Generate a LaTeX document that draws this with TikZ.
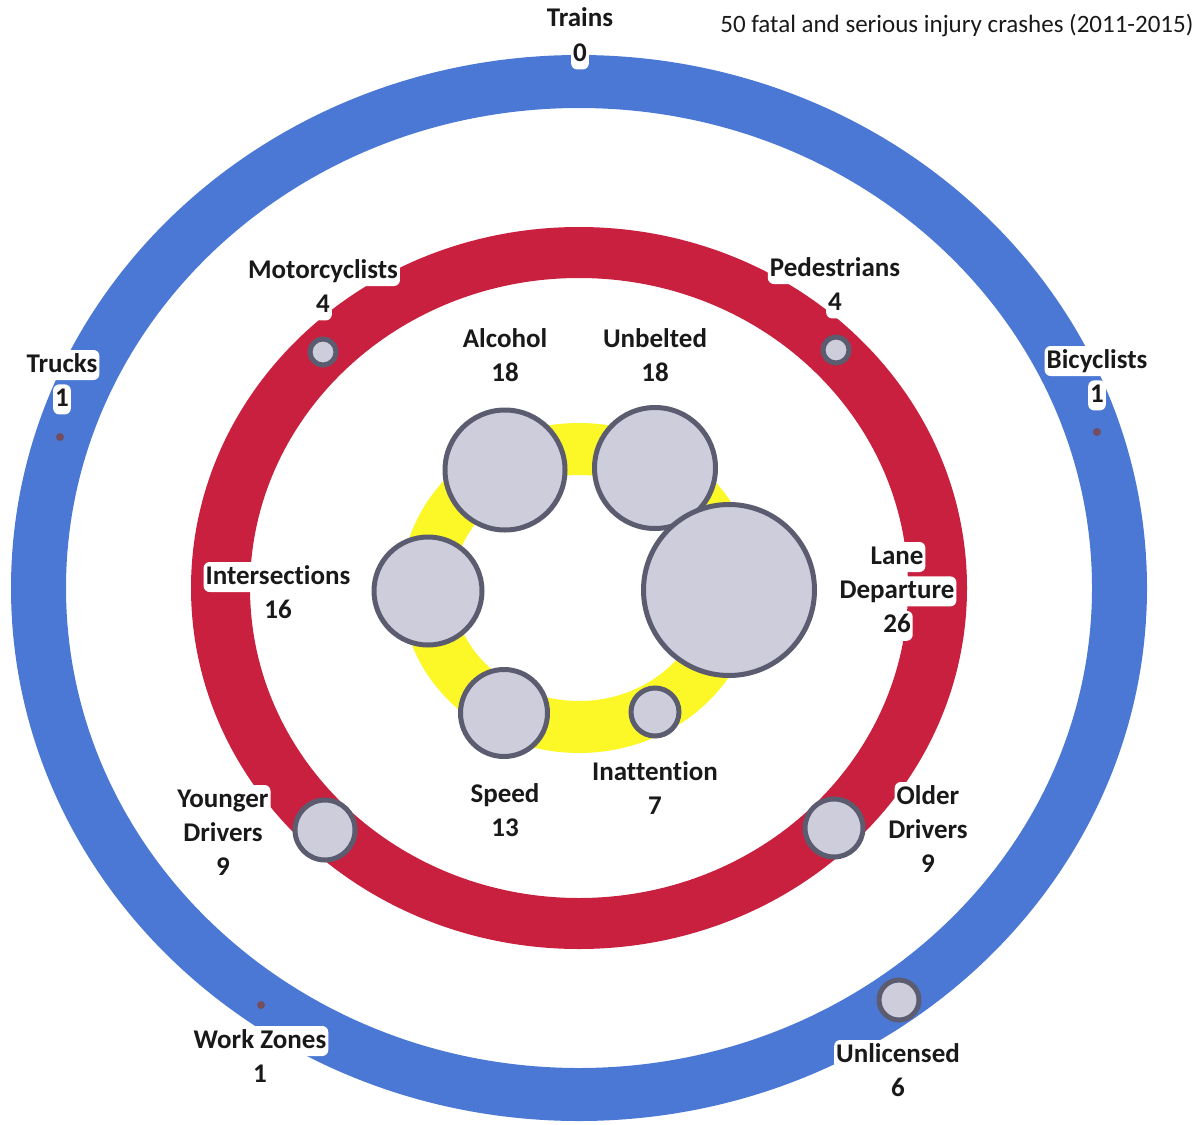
\documentclass[tikz,border=0pt]{standalone}
\usepackage{fontspec}
\setmainfont{Carlito}[RawFeature={-liga;-calt;-dlig}]
\usetikzlibrary{positioning}

\definecolor{ringblue}{RGB}{74,120,212}
\definecolor{ringred}{RGB}{200,32,62}
\definecolor{ringyellow}{RGB}{252,248,40}
\definecolor{bubblefill}{RGB}{206,205,220}
\definecolor{bubbleedge}{RGB}{92,92,112}

\begin{document}
\begin{tikzpicture}[
      x=1pt, y=-1pt, node distance=4pt,
      bubble/.style={circle, draw=bubbleedge, fill=bubblefill, line width=5pt, inner sep=0pt},
      dot/.style={circle, fill=bubbleedge!85!red, inner sep=0pt, minimum size=8pt},
      halo/.style={fill=white, rounded corners=6pt, inner sep=2pt, text height=20pt, text depth=6pt,
        font=\fontsize{27}{34}\selectfont\bfseries, text=black!90}
    ]
    \useasboundingbox (0,0) rectangle (1204,1124);
    \coordinate (c) at (579,588);

    % rings
    \fill[ringblue, even odd rule] (c) ellipse [x radius=568, y radius=533] (c) ellipse [x radius=513, y radius=480];
    \fill[ringred, even odd rule] (c) ellipse [x radius=388, y radius=361] (c) ellipse [x radius=329, y radius=310];
    \draw[ringyellow, line width=52pt] (c) ellipse [x radius=152, y radius=139];

    % inner bubbles
    \node[bubble, minimum size=120pt] (alcohol-b) at (505,470) {};
    \node[bubble, minimum size=121pt] (unbelted-b) at (655,468) {};
    \node[bubble, minimum size=171pt] (lane-b) at (729,590) {};
    \node[bubble, minimum size=108pt] (intersections-b) at (428,591) {};
    \node[bubble, minimum size=87pt] (speed-b) at (504,713) {};
    \node[bubble, minimum size=48pt] (inattention-b) at (655,712) {};

    % ring bubbles
    \node[bubble, minimum size=26pt] (motorcyclists-b) at (323,352) {};
    \node[bubble, minimum size=26pt] (pedestrians-b) at (836,350) {};
    \node[bubble, minimum size=60pt] (younger-b) at (325,830) {};
    \node[bubble, minimum size=58pt] (older-b) at (834,828) {};
    \node[bubble, minimum size=40pt] (unlicensed-b) at (899,1000) {};
    \node[dot] (trucks-b) at (60,437) {};
    \node[dot] (bicyclists-b) at (1097,432) {};
    \node[dot] (workzones-b) at (261,1005) {};

    % labels
    \foreach \n/\x/\y/\t/\v in {trains/580/20/Trains/0, trucks/62/365/Trucks/1,
        bicyclists/1097/361/Bicyclists/1, motorcyclists/323/271/Motorcyclists/4,
        pedestrians/835/269/Pedestrians/4, alcohol/505/340/Alcohol/18,
        unbelted/655/340/Unbelted/18, intersections/278/577/Intersections/16,
        speed/505/795/Speed/13, inattention/655/773/Inattention/7,
        workzones/260/1041/Work Zones/1, unlicensed/898/1055/Unlicensed/6}
      {
        \node[halo] (\n) at (\x,\y) {\t};
        \node[halo, below=of \n] (\n-n) {\v};
      }

    \node[halo] (lane) at (897,557) {Lane};
    \node[halo, below=of lane] (lane-2) {Departure};
    \node[halo, below=of lane-2] (lane-n) {26};

    \node[halo] (younger) at (223,800) {Younger};
    \node[halo, below=of younger] (younger-2) {Drivers};
    \node[halo, below=of younger-2] (younger-n) {9};

    \node[halo] (older) at (928,797) {Older};
    \node[halo, below=of older] (older-2) {Drivers};
    \node[halo, below=of older-2] (older-n) {9};

    \node[anchor=east, font=\fontsize{25}{30}\selectfont, text=black!90] (title) at (1197,25)
      {50 fatal and serious injury crashes (2011-2015)};
  \end{tikzpicture}
\end{document}
